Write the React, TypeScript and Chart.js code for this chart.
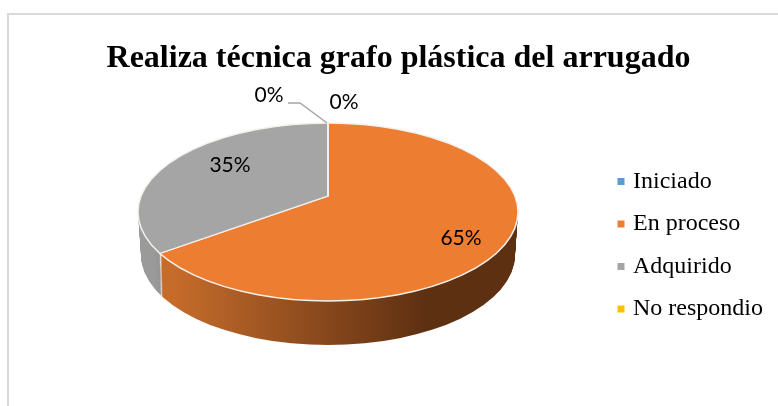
import React, { useEffect, useRef } from "react";
import { Chart, registerables } from "chart.js";

Chart.register(...registerables);

const titleText = "Realiza técnica grafo plástica del arrugado";
const categories = ["Iniciado", "En proceso", "Adquirido", "No respondio"];
const percentages = [0, 65, 35, 0];
const sliceColors = ["#5B9BD5", "#ED7D31", "#A5A5A5", "#FFC000"];

const SERIF = "'Liberation Serif'";
const LABEL_FONT = "Lato";
const SQUASH = 0.47;
const PIE_X = 328;
const APEX_Y = 196;
const TOP_FACE = { cy: 212, rx: 190, ry: 89 };
const BOTTOM_FACE = { cy: 255, rx: 187, ry: 90 };
const DEPTH = 43;
const labelAnchors = [
  { x: 344, y: 102 },
  { x: 461, y: 238 },
  { x: 230, y: 165 },
  { x: 269, y: 95 },
];

const pie3d = {
  id: "pie3d",
  beforeDatasetsDraw(chart: any) {
    const { ctx } = chart;
    const arcs = chart.getDatasetMeta(0).data;
    const cx = arcs[0].x;
    const cy = arcs[0].y;
    const orangeWall = ctx.createLinearGradient(158, 0, 410, 0);
    orangeWall.addColorStop(0, "#C66C2B");
    orangeWall.addColorStop(1, "#5E3012");
    const greyWall = ctx.createLinearGradient(140, 0, 165, 0);
    greyWall.addColorStop(0, "#9A9A9A");
    greyWall.addColorStop(1, "#7E7E7E");
    const wallFill = [null, orangeWall, greyWall, null];

    for (let d = DEPTH; d >= 1; d--) {
      const f = d / DEPTH;
      ctx.save();
      ctx.beginPath();
      ctx.ellipse(
        PIE_X,
        TOP_FACE.cy + (BOTTOM_FACE.cy - TOP_FACE.cy) * f,
        TOP_FACE.rx + (BOTTOM_FACE.rx - TOP_FACE.rx) * f,
        TOP_FACE.ry + (BOTTOM_FACE.ry - TOP_FACE.ry) * f,
        0, 0, Math.PI * 2
      );
      ctx.clip();
      ctx.translate(PIE_X, APEX_Y + d);
      ctx.scale(1, SQUASH);
      ctx.translate(-cx, -cy);
      arcs.forEach((arc: any, i: number) => {
        if (!percentages[i]) return;
        const saved = arc.options.backgroundColor;
        arc.options.backgroundColor = wallFill[i];
        ctx.save();
        arc.draw(ctx);
        ctx.restore();
        arc.options.backgroundColor = saved;
      });
      ctx.restore();
    }

    ctx.save();
    ctx.beginPath();
    ctx.ellipse(PIE_X, TOP_FACE.cy, TOP_FACE.rx, TOP_FACE.ry, 0, 0, Math.PI * 2);
    ctx.clip();
    ctx.translate(PIE_X, APEX_Y);
    ctx.scale(1, SQUASH);
    ctx.translate(-cx, -cy);
  },
  afterDatasetsDraw(chart: any) {
    const { ctx } = chart;
    ctx.restore();

    ctx.save();
    ctx.beginPath();
    ctx.ellipse(PIE_X, TOP_FACE.cy, TOP_FACE.rx, TOP_FACE.ry, 0, 0, Math.PI * 2);
    ctx.strokeStyle = "#F4F0EC";
    ctx.lineWidth = 1.5;
    ctx.stroke();

    ctx.beginPath();
    ctx.moveTo(288, 103);
    ctx.lineTo(300, 103);
    ctx.lineTo(PIE_X - 1, 123);
    ctx.strokeStyle = "#A5A5A5";
    ctx.lineWidth = 1.5;
    ctx.stroke();

    ctx.fillStyle = "#000";
    ctx.font = `21px ${LABEL_FONT}`;
    ctx.textAlign = "center";
    ctx.textBaseline = "middle";
    percentages.forEach((v, i) => {
      ctx.fillText(`${v}%`, labelAnchors[i].x, labelAnchors[i].y);
    });
    ctx.restore();
  },
};

export default function App() {
  const ref = useRef<HTMLCanvasElement>(null);
  useEffect(() => {
    const chart = new Chart(ref.current as HTMLCanvasElement, {
      type: "pie",
      data: {
        labels: categories,
        datasets: [
          {
            data: percentages,
            backgroundColor: sliceColors,
            borderColor: "#F4F0EC",
            borderWidth: 2,
            radius: 460,
            clip: false,
          } as any,
        ],
      },
      options: {
        animation: false,
        responsive: false,
        layout: { padding: { left: 24, right: 5, top: 0, bottom: 8 } },
        plugins: {
          title: {
            display: true,
            text: titleText,
            color: "#000",
            font: { family: SERIF, size: 32, weight: "bold" },
            padding: { top: 40, bottom: 14 },
          },
          legend: {
            position: "right",
            fullSize: false,
            labels: {
              color: "#000",
              font: { family: SERIF, size: 24 },
              usePointStyle: true,
              pointStyle: "rect",
              boxWidth: 0.01,
              boxHeight: 7,
              padding: 18.5,
              generateLabels: (c: any) =>
                (Chart as any).overrides.pie.plugins.legend.labels
                  .generateLabels(c)
                  .map((item: any) => ({ ...item, lineWidth: 0, strokeStyle: "transparent", pointStyle: "rect" })),
            },
          },
          tooltip: { enabled: false },
        },
      },
      plugins: [pie3d],
    } as any);
    return () => chart.destroy();
  }, []);
  return (
    <div style={{ position: "fixed", left: 0, top: 0, width: 778, height: 406, background: "#fff" }}>
      <div
        style={{
          position: "absolute",
          left: 7,
          top: 13,
          width: 800,
          height: 420,
          border: "2px solid #D9D9D9",
          boxSizing: "border-box",
        }}
      />
      <canvas ref={ref} width={778} height={406} style={{ position: "absolute", left: 0, top: 0 }} />
    </div>
  );
}
